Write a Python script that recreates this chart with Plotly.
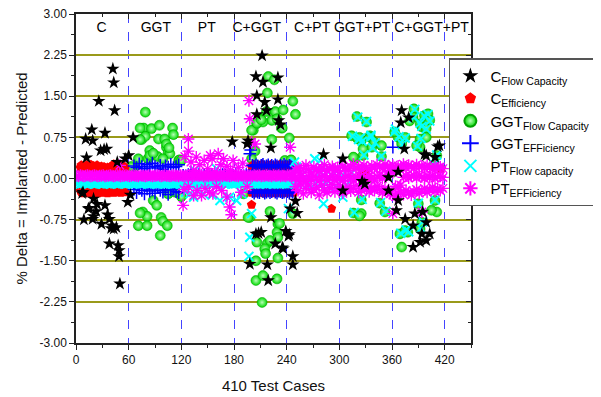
import plotly.graph_objects as go

# ---------------- axis / label data ----------------
x_tickvals = [0, 60, 120, 180, 240, 300, 360, 420]
y_tickvals = [-3.0, -2.25, -1.5, -0.75, 0.0, 0.75, 1.5, 2.25, 3.0]
y_ticktext = ['-3.00', '-2.25', '-1.50', '-0.75', '0.00', '0.75', '1.50', '2.25', '3.00']
grid_y = [-2.25, -1.5, -0.75, 0.75, 1.5, 2.25]
section_labels = ['C', 'GGT', 'PT', 'C+GGT', 'C+PT', 'GGT+PT', 'C+GGT+PT']
section_label_x = [29, 91, 149, 206, 269, 326, 405]
section_label_y = [2.74] * 7

# ---------------- C flow capacity (black stars) ----------------
c_fc_x = [42, 43, 26, 44, 18, 33, 11, 19, 28, 32, 35, 12, 47, 56, 60, 65, 62, 59, 20, 33,
          15, 24, 23, 9, 19, 29, 20, 36, 38, 41, 43, 46, 40, 38, 48, 49, 49, 50, 8, 14, 7,
          212, 205, 213, 206, 215, 230, 206, 217, 230, 233, 178, 196, 222, 195, 222, 208, 211, 205, 227, 236,
          198, 218, 219, 247, 247, 250, 252, 244, 239, 243, 235, 242, 282, 231,
          304, 304, 329, 326, 371, 379, 370, 374, 412, 397, 409, 356, 367, 365, 375, 386, 395, 399, 384, 394,
          399, 403, 392, 384, 399, 414, 367, 356]
c_fc_y = [2.00, 1.75, 1.41, 1.24, 0.89, 0.83, 0.72, 0.69, 0.51, 0.53, 0.54, 0.38, 0.30, 0.36, 0.42, 0.75, -0.30, -0.43, -0.37, -0.49,
          -0.54, -0.47, -0.60, -0.75, -0.74, -0.83, -0.69, -0.66, -0.74, -0.86, -0.92, -0.89, -0.91, -1.19, -1.22, -1.31, -1.42, -1.92, -0.25, -0.55, -0.27,
          2.24, 1.86, 1.76, 1.51, 1.39, 1.44, 1.17, 1.24, 1.84, 0.98, 0.67, 0.69, 0.56, 0.63, -0.71, -1.00, -0.98, -1.01, -1.19, -1.28,
          -1.56, -1.57, -1.86, -1.42, -1.57, -0.41, -0.63, -0.55, -0.96, -1.02, -1.26, -1.05, 0.44, 1.06,
          0.36, -0.22, -0.10, -0.05, 1.24, 1.11, 1.02, 0.54, 0.58, 0.44, 0.39, -0.22, -0.40, -0.58, -0.74, -0.64, -0.61, -0.80, -0.86, -1.01,
          -1.13, -1.01, -1.16, -1.25, 0.42, 0.60, 0.12, 0.02]

# ---------------- C efficiency (red pentagons) ----------------
c_eff_band_x = list(range(5, 57))
c_eff_top_y = [0.20, 0.24, 0.22, 0.18, 0.23, 0.21, 0.19, 0.24, 0.22, 0.20,
               0.17, 0.22, 0.25, 0.21, 0.19, 0.23, 0.20, 0.18, 0.22, 0.24,
               0.21, 0.19, 0.16, 0.20, 0.22, 0.18, 0.17, 0.21, 0.19, 0.16,
               0.18, 0.20, 0.17, 0.15, 0.19, 0.22, 0.20, 0.24, 0.26, 0.22,
               0.20, 0.25, 0.23, 0.19, 0.21, 0.24, 0.22, 0.20, 0.18, 0.23,
               0.21, 0.19]
c_eff_bot_y = [-0.22, -0.25, -0.20, -0.24, -0.27, -0.21, -0.23, -0.26, -0.22, -0.19,
               -0.24, -0.27, -0.23, -0.20, -0.25, -0.22, -0.26, -0.24, -0.21, -0.23,
               -0.27, -0.25, -0.22, -0.20, -0.24, -0.26, -0.23, -0.21, -0.25, -0.22,
               -0.24, -0.27, -0.23, -0.20, -0.22, -0.25, -0.21, -0.24, -0.26, -0.22,
               -0.20, -0.23, -0.25, -0.21, -0.24, -0.22, -0.26, -0.23, -0.20, -0.24,
               -0.22, -0.25]
c_eff_cg_x = list(range(200, 249, 2))
c_eff_cg_top_y = [0.22, 0.25, 0.23, 0.21, 0.24, 0.22, 0.26, 0.23, 0.21, 0.24, 0.22, 0.25, 0.23,
                  0.21, 0.24, 0.22, 0.25, 0.23, 0.22, 0.24, 0.21, 0.23, 0.25, 0.22, 0.24]
c_eff_cg_bot_y = [-0.26, -0.24, -0.27, -0.25, -0.23, -0.26, -0.24, -0.27, -0.25, -0.23, -0.26, -0.24, -0.25,
                  -0.27, -0.23, -0.26, -0.24, -0.25, -0.27, -0.23, -0.26, -0.24, -0.25, -0.23, -0.26]
c_eff_extra_x = [200, 291, 325, 329, 416, 333]
c_eff_extra_y = [-0.48, -0.55, 0.08, 0.10, 0.18, 0.02]

# ---------------- GGT flow capacity (green spheres) ----------------
ggt_fc_x = [79, 77, 86, 95, 110, 75, 79, 94, 101, 111, 84, 86, 93, 103, 105, 107, 71, 82, 99, 117,
            105, 120, 113, 88, 92, 76, 81, 97, 99, 104, 71, 81, 96, 73, 73, 67, 73, 103, 106, 84,
            88, 118, 63, 120,
            219, 226, 218, 247, 250, 217, 227, 236, 210, 223, 229, 206, 213, 234, 202, 223, 243, 200, 206, 211,
            235, 204, 200, 198, 221, 230, 206, 218, 221, 229, 230, 215, 216, 205, 230, 205, 213, 229, 212, 196,
            232, 238, 245, 191, 247,
            320, 331, 314, 321, 335, 325, 337, 348, 327, 318, 325, 346, 352, 316, 325, 323, 335, 340, 327, 348,
            323, 316, 385, 397, 384, 392, 401, 403, 394, 399, 392, 399, 367, 375, 371, 392, 388, 411, 407, 390,
            409, 411, 369, 375, 378, 371, 392, 394, 405, 380, 363]
ggt_fc_y = [1.21, 0.92, 0.91, 0.97, 0.92, 0.71, 0.77, 0.72, 0.72, 0.80, 0.51, 0.42, 0.40, 0.57, 0.47, 0.45, 0.36, 0.36, 0.36, 0.33,
            -0.28, -0.33, -0.25, -0.40, -0.49, -0.61, -0.69, -0.71, -0.78, -0.86, -0.86, -0.86, -1.04, 0.92, 0.71, 0.21, -0.63, 0.63, 0.56, 0.42,
            0.46, 0.34, 0.22, 0.33,
            1.86, 1.80, 1.56, 1.41, 1.17, 1.22, 1.22, 1.25, 1.09, 1.06, 1.09, 1.00, 1.03, 0.92, 0.88, 0.71, 0.74, 0.88, 1.01, 1.07,
            0.92, 0.50, 0.36, -0.71, -0.60, -0.83, -1.16, -1.18, -1.13, -0.98, -1.07, -1.28, -1.37, -1.50, -1.45, -1.86, -1.77, -1.83, -2.26, -0.71,
            -0.82, 0.33, 0.34, -0.28, -0.64,
            1.13, 1.03, 0.78, 0.72, 0.78, 0.69, 0.57, 0.40, 0.42, 0.36, -0.39, -0.45, -0.61, -0.63, -0.64, 0.75, 0.75, 0.66, 0.54, 0.60,
            -0.68, 0.39, 1.27, 1.15, 1.12, 1.00, 1.18, 1.06, 0.94, 0.91, 0.72, 0.75, 0.75, 0.75, 0.63, 0.57, 0.60, 0.42, 0.24, -0.46,
            -0.40, -0.61, -1.01, -0.95, -0.98, -1.25, -0.92, -0.80, -0.58, 1.05, 0.85]

# ---------------- GGT efficiency (blue +) ----------------
ggt_eff_g_x = list(range(66, 119, 3))
ggt_eff_g_top_y = [0.23, 0.20, 0.27, 0.22, 0.18, 0.25, 0.21, 0.28, 0.22, 0.19, 0.24, 0.17, 0.23, 0.21,
                   0.26, 0.20, 0.22, 0.25]
ggt_eff_g_bot_y = [-0.20, -0.26, -0.18, -0.22, -0.28, -0.19, -0.23, -0.21, -0.27, -0.17, -0.22, -0.25, -0.20, -0.29,
                   -0.21, -0.19, -0.24, -0.26]
ggt_eff_cg_x = list(range(201, 248, 2))
ggt_eff_cg_top_y = [0.24, 0.22, 0.25, 0.23, 0.21, 0.24, 0.26, 0.22, 0.23, 0.25, 0.21, 0.24,
                    0.22, 0.25, 0.23, 0.21, 0.24, 0.22, 0.26, 0.23, 0.22, 0.24, 0.25, 0.21]
ggt_eff_cg_bot_y = [-0.24, -0.27, -0.23, -0.25, -0.26, -0.22, -0.24, -0.27, -0.25, -0.23, -0.26, -0.24,
                    -0.22, -0.25, -0.27, -0.23, -0.24, -0.26, -0.25, -0.22, -0.24, -0.27, -0.23, -0.25]
ggt_eff_pt_x = list(range(122, 201, 3))
ggt_eff_pt_y = [0.06, 0.05, 0.07, 0.06, 0.05, 0.06, 0.07, 0.05, 0.06, 0.06, 0.05, 0.07, 0.06, 0.05,
                0.06, 0.07, 0.06, 0.05, 0.06, 0.06, 0.07, 0.05, 0.06, 0.05, 0.07, 0.06, 0.05]
ggt_eff_extra_x = [198, 199, 361, 129, 131, 133]
ggt_eff_extra_y = [0.45, 0.52, 0.57, 0.03, 0.07, 0.02]

# ---------------- PT flow capacity (cyan x) ----------------
band_x = list(range(1, 250, 2))
pt_fc_band_y = [-0.09, -0.08, -0.10, -0.09, -0.08, -0.09, -0.10, -0.09, -0.08, -0.09,
                -0.10, -0.09, -0.08, -0.09, -0.09, -0.10, -0.08, -0.09, -0.09, -0.10,
                -0.09, -0.08, -0.09, -0.10, -0.09, -0.08, -0.09, -0.09, -0.10, -0.09,
                -0.08, -0.09, -0.10, -0.09, -0.09, -0.08, -0.10, -0.09, -0.09, -0.08,
                -0.09, -0.10, -0.09, -0.08, -0.09, -0.09, -0.10, -0.09, -0.08, -0.09,
                -0.10, -0.09, -0.09, -0.08, -0.09, -0.10, -0.09, -0.09, -0.08, -0.10,
                -0.09, -0.08, -0.09, -0.09, -0.10, -0.09, -0.08, -0.09, -0.10, -0.09,
                -0.09, -0.10, -0.08, -0.09, -0.09, -0.08, -0.10, -0.09, -0.09, -0.08,
                -0.10, -0.09, -0.09, -0.08, -0.10, -0.09, -0.09, -0.08, -0.09, -0.10,
                -0.09, -0.09, -0.08, -0.10, -0.09, -0.09, -0.08, -0.10, -0.09, -0.09,
                -0.08, -0.10, -0.09, -0.09, -0.10, -0.08, -0.09, -0.09, -0.10, -0.09,
                -0.09, -0.08, -0.10, -0.09, -0.09, -0.10, -0.08, -0.09, -0.09, -0.08,
                -0.10, -0.09, -0.08, -0.09, -0.09]
pt_fc_x = [125, 130, 134, 140, 145, 155, 164, 175, 183, 189, 135, 160, 198, 197, 200, 242, 282, 304, 272, 278,
           251, 249, 252, 258, 263, 268, 273, 279, 285, 291, 296, 302, 308, 314,
           321, 331, 315, 322, 336, 326, 338, 348, 328, 326, 347, 353, 317, 324, 336, 341, 386, 397, 385, 392,
           401, 403, 394, 399, 393, 368, 375, 372, 389, 411, 408, 390, 409, 370, 376, 379, 393, 395, 363, 364]
pt_fc_y = [-0.25, -0.28, -0.34, -0.20, -0.28, -0.30, -0.40, -0.34, -0.40, -0.28, 0.15, 0.18, -1.07, -1.42, -0.64, -0.55, -0.46, -0.34, 0.36, 0.33,
           0.21, 0.30, -0.10, 0.08, -0.12, 0.10, -0.08, 0.12, -0.10, 0.06, -0.14, 0.04, -0.12, 0.10,
           1.12, 1.04, 0.77, 0.71, 0.79, 0.68, 0.56, 0.41, 0.43, -0.38, -0.44, -0.60, -0.62, 0.74, 0.76, 0.65, 1.26, 1.14, 1.11, 1.01,
           1.17, 1.05, 0.95, 0.90, 0.73, 0.76, 0.74, 0.62, 0.59, 0.43, 0.25, -0.45, -0.39, -1.00, -0.94, -0.97, -0.91, -0.79, 0.85, 0.90]

# ---------------- PT efficiency (magenta asterisks) ----------------
pt_eff_band_y = [0.05, 0.04, 0.06, 0.05, 0.04, 0.05, 0.06, 0.05, 0.04, 0.05,
                 0.06, 0.05, 0.04, 0.05, 0.05, 0.06, 0.04, 0.05, 0.05, 0.06,
                 0.05, 0.04, 0.05, 0.06, 0.05, 0.04, 0.05, 0.05, 0.06, 0.05,
                 0.04, 0.05, 0.06, 0.05, 0.05, 0.04, 0.06, 0.05, 0.05, 0.04,
                 0.05, 0.06, 0.05, 0.04, 0.05, 0.05, 0.06, 0.05, 0.04, 0.05,
                 0.06, 0.05, 0.05, 0.04, 0.05, 0.06, 0.05, 0.05, 0.04, 0.06,
                 0.05, 0.04, 0.05, 0.05, 0.06, 0.05, 0.04, 0.05, 0.06, 0.05,
                 0.05, 0.06, 0.04, 0.05, 0.05, 0.04, 0.06, 0.05, 0.05, 0.04,
                 0.06, 0.05, 0.05, 0.04, 0.06, 0.05, 0.05, 0.04, 0.05, 0.06,
                 0.05, 0.05, 0.04, 0.06, 0.05, 0.05, 0.04, 0.06, 0.05, 0.05,
                 0.04, 0.06, 0.05, 0.05, 0.06, 0.04, 0.05, 0.05, 0.06, 0.05,
                 0.05, 0.04, 0.06, 0.05, 0.05, 0.06, 0.04, 0.05, 0.05, 0.04,
                 0.06, 0.05, 0.04, 0.05, 0.05]
pt_eff_cl_x = list(range(250, 419, 3))
pt_eff_cl_up_y = [0.15, 0.20, 0.12, 0.18, 0.24, 0.16, 0.10, 0.21, 0.17, 0.13,
                  0.19, 0.25, 0.14, 0.18, 0.22, 0.16, 0.20, 0.12, 0.23, 0.19,
                  0.15, 0.21, 0.26, 0.18, 0.22, 0.16, 0.24, 0.20, 0.17, 0.23,
                  0.19, 0.25, 0.21, 0.18, 0.26, 0.22, 0.20, 0.24, 0.18, 0.23,
                  0.21, 0.26, 0.19, 0.24, 0.22, 0.18, 0.25, 0.21, 0.23, 0.19,
                  0.24, 0.20, 0.17, 0.22, 0.19, 0.21, 0.18]
pt_eff_cl_mid_y = [0.02, -0.03, 0.05, 0.00, -0.05, 0.03, -0.02, 0.04, 0.01, -0.04,
                   0.02, 0.05, -0.03, 0.01, 0.04, -0.02, 0.03, 0.00, -0.04, 0.02,
                   0.05, 0.01, -0.03, 0.03, 0.00, 0.04, -0.02, 0.02, 0.05, 0.01,
                   -0.03, 0.03, 0.06, 0.00, 0.04, 0.12, 0.14, 0.11, -0.14, -0.16,
                   -0.12, 0.02, 0.05, 0.01, 0.04, 0.06, 0.02, 0.05, 0.03, 0.00,
                   0.04, 0.02, 0.05, 0.01, 0.03, 0.04, 0.02]
pt_eff_cl_low_y = [-0.15, -0.22, -0.10, -0.28, -0.18, -0.12, -0.25, -0.20, -0.16, -0.30,
                   -0.13, -0.21, -0.26, -0.17, -0.11, -0.24, -0.19, -0.14, -0.27, -0.20,
                   -0.16, -0.23, -0.18, -0.13, -0.25, -0.21, -0.15, -0.19, -0.24, -0.17,
                   -0.22, -0.14, -0.20, -0.26, -0.18, -0.24, -0.28, -0.30, -0.33, -0.27,
                   -0.25, -0.29, -0.22, -0.26, -0.30, -0.24, -0.20, -0.27, -0.23, -0.18,
                   -0.25, -0.21, -0.16, -0.23, -0.19, -0.22, -0.18]
pt_eff_x = [128, 128, 124, 131, 137, 141, 146, 153, 155, 162, 168, 172, 179, 176, 134, 150, 158, 165, 123, 128,
            134, 138, 143, 147, 152, 156, 160, 166, 172, 175, 177, 122, 185, 190, 195, 188, 197, 198, 200, 204,
            244, 50, 394, 361]
pt_eff_y = [0.72, 0.50, 0.40, 0.30, 0.39, 0.25, 0.33, 0.42, 0.36, 0.45, 0.36, 0.22, 0.33, 0.15, 0.15, 0.18, 0.12, 0.25, -0.20, -0.15,
            -0.31, -0.22, -0.31, -0.18, -0.25, -0.28, -0.15, -0.22, -0.34, -0.52, -0.66, -0.49, 0.20, 0.28, -0.15, -0.25, 1.42, 1.09, 0.66, 0.63,
            0.57, 0.24, -0.61, -0.64]

# ---------------- assemble series ----------------
C_EFF_X = c_eff_band_x + c_eff_band_x + c_eff_cg_x + c_eff_cg_x + c_eff_extra_x
C_EFF_Y = c_eff_top_y + c_eff_bot_y + c_eff_cg_top_y + c_eff_cg_bot_y + c_eff_extra_y
GGT_EFF_X = ggt_eff_g_x + ggt_eff_g_x + ggt_eff_cg_x + ggt_eff_cg_x + ggt_eff_pt_x + ggt_eff_extra_x
GGT_EFF_Y = ggt_eff_g_top_y + ggt_eff_g_bot_y + ggt_eff_cg_top_y + ggt_eff_cg_bot_y + ggt_eff_pt_y + ggt_eff_extra_y
PT_FC_X = band_x + pt_fc_x
PT_FC_Y = pt_fc_band_y + pt_fc_y
PT_EFF_X = band_x + pt_eff_cl_x + pt_eff_cl_x + pt_eff_cl_x + pt_eff_x
PT_EFF_Y = pt_eff_band_y + pt_eff_cl_up_y + pt_eff_cl_mid_y + pt_eff_cl_low_y + pt_eff_y

FONT = 'Liberation Sans, Arial, sans-serif'

fig = go.Figure()

# drawing order (bottom -> top); legendrank keeps the legend order of the original
fig.add_trace(go.Scatter(
    x=ggt_fc_x, y=ggt_fc_y, mode='markers', name='GGT<sub>Flow Capacity</sub>', legendrank=3,
    marker=dict(symbol='circle', size=10, color='#00d800',
                gradient=dict(type='radial', color='#b8ffb8'),
                line=dict(color='#00a000', width=0.5))))
fig.add_trace(go.Scatter(
    x=C_EFF_X, y=C_EFF_Y, mode='markers', name='C<sub>Efficiency</sub>', legendrank=2,
    marker=dict(symbol='pentagon', size=10, color='#ff0000', line=dict(width=0))))
fig.add_trace(go.Scatter(
    x=GGT_EFF_X, y=GGT_EFF_Y, mode='markers', name='GGT<sub>EFFiciency</sub>', legendrank=4,
    marker=dict(symbol='cross-thin-open', size=9, color='#0000ff', line=dict(color='#0000ff', width=1.5))))
fig.add_trace(go.Scatter(
    x=PT_FC_X, y=PT_FC_Y, mode='markers', name='PT<sub>Flow capacity</sub>', legendrank=5,
    marker=dict(symbol='x-thin-open', size=9, color='#00ffff', line=dict(color='#00ffff', width=2))))
fig.add_trace(go.Scatter(
    x=PT_EFF_X, y=PT_EFF_Y, mode='markers', name='PT<sub>EFFiciency</sub>', legendrank=6,
    marker=dict(symbol='asterisk-open', size=10, color='#ff00ff', line=dict(color='#ff00ff', width=1.4))))
fig.add_trace(go.Scatter(
    x=c_fc_x, y=c_fc_y, mode='markers', name='C<sub>Flow Capacity</sub>', legendrank=1,
    marker=dict(symbol='star', size=10, color='#000000', line=dict(width=0))))

# section labels
fig.add_trace(go.Scatter(
    x=section_label_x, y=section_label_y, text=section_labels, mode='text', showlegend=False,
    textfont=dict(family=FONT, size=14, color='#000'), hoverinfo='skip'))

# helper empty traces so overlay axes exist
fig.add_trace(go.Scatter(x=[None], y=[None], xaxis='x2', yaxis='y2', showlegend=False, mode='markers'))
fig.add_trace(go.Scatter(x=[None], y=[None], xaxis='x', yaxis='y3', showlegend=False, mode='markers'))

# page has an 8px body margin; figure is sized so that it fills the 601x397 window
fig.update_layout(
    width=593, height=389,
    margin=dict(l=68, r=130, t=6, b=54, autoexpand=False),
    paper_bgcolor='white', plot_bgcolor='white',
    font=dict(family=FONT, color='#111'),
    showlegend=True,
    legend=dict(x=0.944, y=0.866, xanchor='left', yanchor='top', bgcolor='white',
                bordercolor='#555', borderwidth=1.5, font=dict(family=FONT, size=15, color='#000'),
                itemsizing='constant', tracegroupgap=0, traceorder='normal'),
    xaxis=dict(range=[0, 450], tickmode='linear', tick0=0, dtick=60, ticks='outside', ticklen=5,
               tickcolor='#222', tickwidth=1.2, showline=True, linecolor='#222', linewidth=1.5, mirror=True,
               showgrid=True, gridcolor='#4444ff', griddash='dash', gridwidth=1, zeroline=False,
               minor=dict(tick0=0, dtick=30, ticks='outside', ticklen=3, tickcolor='#222', showgrid=False),
               tickfont=dict(size=12, color='#111'), ticklabeloverflow='allow',
               title=dict(text='410 Test Cases', font=dict(size=15, color='#111'), standoff=14)),
    yaxis=dict(range=[-3, 3], tickmode='array', tickvals=y_tickvals, ticktext=y_ticktext,
               ticks='outside', ticklen=5, tickcolor='#222', tickwidth=1.2,
               showline=True, linecolor='#222', linewidth=1.5, mirror=True,
               showgrid=False, zeroline=False,
               minor=dict(tick0=-3, dtick=0.375, ticks='outside', ticklen=3, tickcolor='#222', showgrid=False),
               tickfont=dict(size=12, color='#111'), ticklabeloverflow='allow',
               title=dict(text='% Delta = Implanted - Predicted', font=dict(size=15, color='#111'), standoff=8)),
    xaxis2=dict(overlaying='x', side='top', range=[0, 450], tickmode='linear', tick0=0, dtick=60,
                ticks='inside', ticklen=5, tickcolor='#222', tickwidth=1.2, showticklabels=False,
                showline=False, showgrid=False, zeroline=False,
                minor=dict(tick0=0, dtick=30, ticks='inside', ticklen=3, tickcolor='#222', showgrid=False)),
    yaxis2=dict(overlaying='y', side='right', range=[-3, 3], tickmode='linear', tick0=-3, dtick=0.75,
                ticks='inside', ticklen=5, tickcolor='#222', tickwidth=1.2, showticklabels=False,
                showline=False, showgrid=False, zeroline=False,
                minor=dict(tick0=-3, dtick=0.375, ticks='inside', ticklen=3, tickcolor='#222', showgrid=False)),
    yaxis3=dict(overlaying='y', range=[-3, 3], tickmode='array', tickvals=grid_y, showticklabels=False,
                ticks='', showline=False, showgrid=True, gridcolor='#9a9a1a', gridwidth=1.5, zeroline=False),
)

fig.write_html('out.html')
